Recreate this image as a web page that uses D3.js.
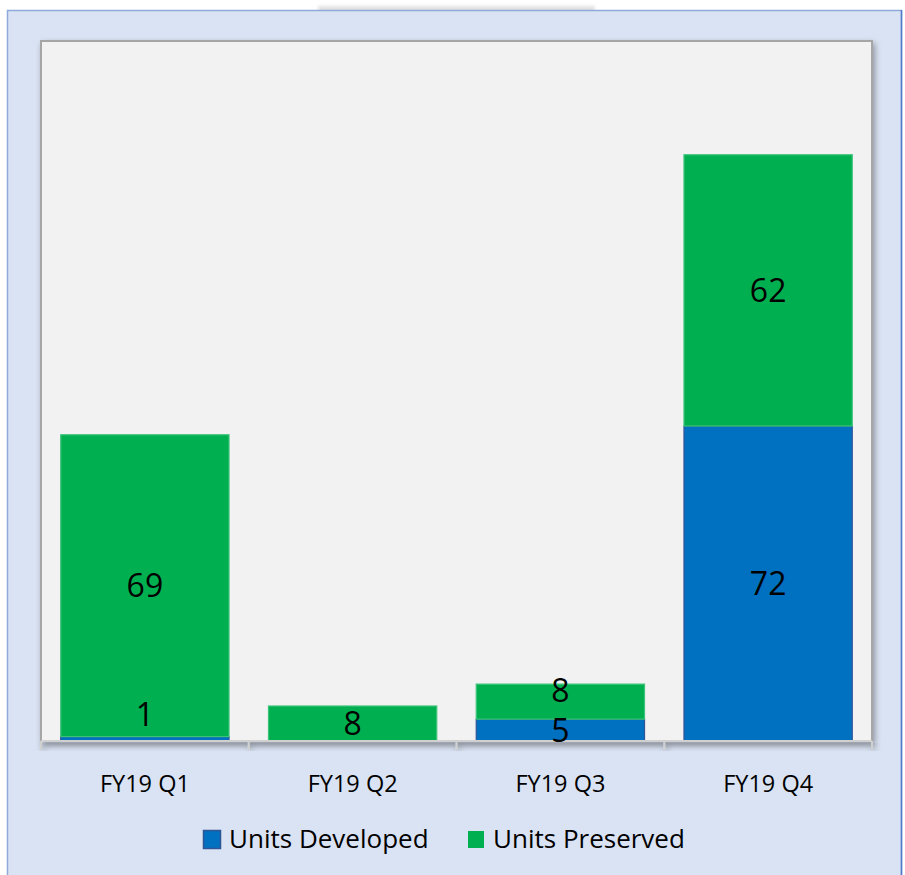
<!DOCTYPE html>
<html>
<head>
<meta charset="utf-8">
<script src="https://cdn.jsdelivr.net/npm/d3@7"></script>
<style>
  html, body { margin: 0; padding: 0; background: #fff; }
  svg { display: block; font-family: "Open Sans", "Noto Sans", sans-serif; }
</style>
</head>
<body>
<div id="chart"></div>
<script>
// chart data
const quarters = ['FY19 Q1', 'FY19 Q2', 'FY19 Q3', 'FY19 Q4'];
const unitsDeveloped = [1, 0, 5, 72];
const unitsPreserved = [69, 8, 8, 62];
const seriesNames = ['Units Developed', 'Units Preserved'];
const seriesColors = ['#0070c0', '#00b050'];
const seriesStrokes = ['#2f5597', '#3cc47a'];

const width = 905, height = 875;
const plot = { left: 41, top: 41, right: 872, bottom: 741 };

const svg = d3.select('#chart').append('svg')
    .attr('width', width)
    .attr('height', height);

const defs = svg.append('defs');

// soft shadow used by the plot frame and the axis
const shadow = defs.append('filter')
    .attr('id', 'shadow')
    .attr('x', '-5%').attr('y', '-5%')
    .attr('width', '110%').attr('height', '110%');
shadow.append('feGaussianBlur').attr('in', 'SourceAlpha').attr('stdDeviation', 3);
shadow.append('feOffset').attr('dx', 2).attr('dy', 3).attr('result', 'blur');
shadow.append('feComponentTransfer').append('feFuncA').attr('type', 'linear').attr('slope', 0.35);
const merge = shadow.append('feMerge');
merge.append('feMergeNode');
merge.append('feMergeNode').attr('in', 'SourceGraphic');

// faint tab shadow at the top
const tabGrad = defs.append('linearGradient')
    .attr('id', 'tabGrad')
    .attr('x1', 0).attr('y1', 0).attr('x2', 0).attr('y2', 1);
tabGrad.append('stop').attr('offset', '0%').attr('stop-color', '#ffffff');
tabGrad.append('stop').attr('offset', '100%').attr('stop-color', '#cfcfcf');

svg.append('rect')
    .attr('x', 318).attr('y', 4)
    .attr('width', 277).attr('height', 7)
    .attr('rx', 3)
    .attr('fill', 'url(#tabGrad)')
    .style('filter', 'blur(1.5px)');

// outer panel
svg.append('rect')
    .attr('x', 7.5).attr('y', 10.5)
    .attr('width', 894).attr('height', 870)
    .attr('fill', '#dae3f3')
    .attr('stroke', '#8eaadb')
    .attr('stroke-width', 1.5);
svg.append('line')
    .attr('x1', 901.5).attr('x2', 901.5)
    .attr('y1', 10).attr('y2', height)
    .attr('stroke', '#4f7ac9')
    .attr('stroke-width', 1.5);

// plot area
svg.append('rect')
    .attr('x', plot.left).attr('y', plot.top)
    .attr('width', plot.right - plot.left)
    .attr('height', plot.bottom - plot.top)
    .attr('fill', '#f2f2f2')
    .attr('stroke', '#a6a6a6')
    .attr('stroke-width', 2)
    .attr('filter', 'url(#shadow)');

const x = d3.scaleBand()
    .domain(quarters)
    .range([plot.left, plot.right])
    .paddingInner(0.19)
    .paddingOuter(0.095);

const y = d3.scaleLinear()
    .domain([0, 160])
    .range([plot.bottom, plot.top]);

const rows = quarters.map((q, i) => ({
    quarter: q,
    'Units Developed': unitsDeveloped[i],
    'Units Preserved': unitsPreserved[i]
}));

const stacked = d3.stack().keys(seriesNames)(rows);

const layers = svg.append('g').attr('class', 'bars')
    .selectAll('g')
    .data(stacked)
    .enter()
    .append('g')
    .attr('fill', (d, i) => seriesColors[i])
    .attr('stroke', (d, i) => seriesStrokes[i]);

layers.selectAll('rect')
    .data(d => d.filter(s => s[1] > s[0]))
    .enter()
    .append('rect')
    .attr('x', d => x(d.data.quarter))
    .attr('width', x.bandwidth())
    .attr('y', d => y(d[1]))
    .attr('height', d => y(d[0]) - y(d[1]))
    .attr('stroke-width', 1.2);

// axis line and ticks (with shadow)
const axis = svg.append('g')
    .attr('class', 'x-axis')
    .attr('transform', `translate(0,${plot.bottom})`);

const axisLines = axis.append('g').attr('filter', 'url(#shadow)');
axisLines.append('line')
    .attr('x1', plot.left).attr('x2', plot.right)
    .attr('stroke', '#d0d0d0').attr('stroke-width', 2);

const tickXs = d3.range(quarters.length + 1)
    .map(i => plot.left + i * (plot.right - plot.left) / quarters.length);
axisLines.selectAll('.tick')
    .data(tickXs)
    .enter()
    .append('line')
    .attr('class', 'tick')
    .attr('x1', d => d).attr('x2', d => d)
    .attr('y1', 0).attr('y2', 9)
    .attr('stroke', '#d0d0d0').attr('stroke-width', 2);

axis.selectAll('.label')
    .data(quarters)
    .enter()
    .append('text')
    .attr('class', 'label')
    .attr('x', d => x(d) + x.bandwidth() / 2)
    .attr('y', 51)
    .attr('text-anchor', 'middle')
    .style('font-size', '23.5px')
    .style('fill', '#000')
    .text(d => d);

// data labels: centred in the segment, thin segments get it just above,
// and a label is pushed up when it would hit the one below it
const labels = svg.append('g').attr('class', 'data-labels');
const minGap = 40;
quarters.forEach((q, qi) => {
    let lastCenter = null;
    stacked.forEach((layer) => {
        const s = layer[qi];
        const v = s[1] - s[0];
        if (v <= 0) return;
        const segH = y(s[0]) - y(s[1]);
        let cy = segH < 10 ? y(s[1]) - 22.5 : (y(s[0]) + y(s[1])) / 2;
        if (lastCenter !== null && lastCenter - cy < minGap) cy = lastCenter - minGap;
        lastCenter = cy;
        labels.append('text')
            .attr('x', x(q) + x.bandwidth() / 2)
            .attr('y', cy + 11.5)
            .attr('text-anchor', 'middle')
            .style('font-size', '32px')
            .style('fill', '#000')
            .text(v);
    });
});

// legend
const legend = svg.append('g')
    .attr('class', 'legend')
    .attr('transform', 'translate(203,830)');

const legendOffsets = [0, 264];
const items = legend.selectAll('g')
    .data(seriesNames)
    .enter()
    .append('g')
    .attr('transform', (d, i) => `translate(${legendOffsets[i]},0)`);

items.append('rect')
    .attr('x', (d, i) => i === 0 ? 0.5 : 1)
    .attr('y', (d, i) => i === 0 ? 0.5 : 1)
    .attr('width', (d, i) => i === 0 ? 17 : 16)
    .attr('height', (d, i) => i === 0 ? 18 : 17)
    .attr('fill', (d, i) => seriesColors[i])
    .attr('stroke', (d, i) => i === 0 ? seriesStrokes[0] : 'none')
    .attr('stroke-width', 1.5);

items.append('text')
    .attr('x', 26)
    .attr('y', 18)
    .style('font-size', '26px')
    .style('fill', '#000')
    .text(d => d);
</script>
</body>
</html>
